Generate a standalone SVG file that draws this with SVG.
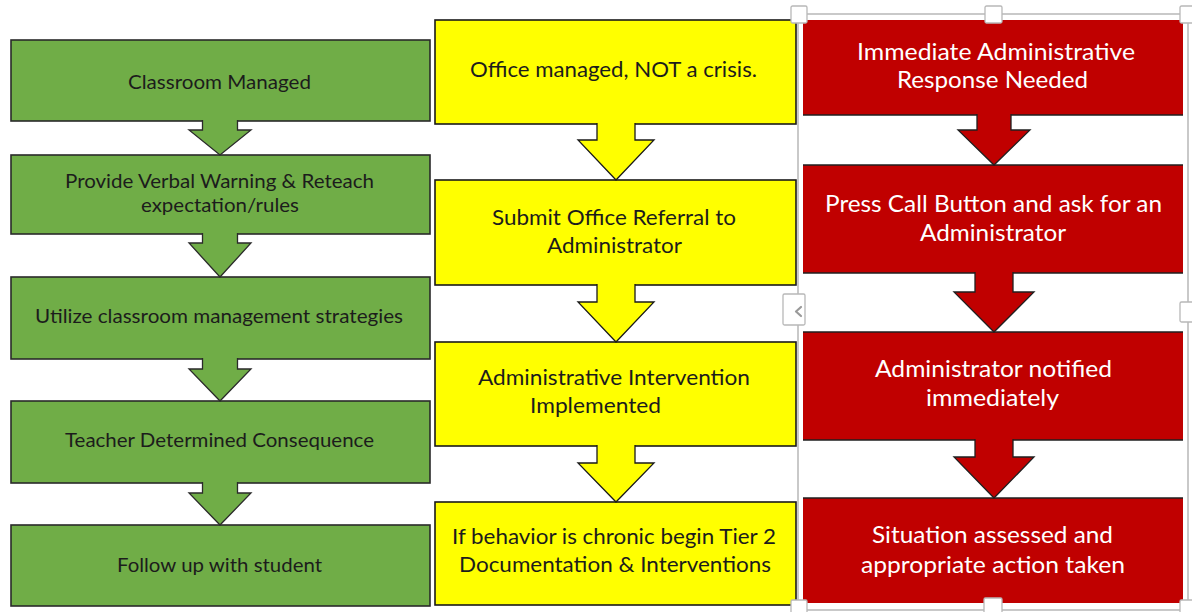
<svg xmlns="http://www.w3.org/2000/svg" width="1192" height="612" viewBox="0 0 1192 612">
  <style>
    .t { font-family: Lato, "Open Sans", "Liberation Sans", sans-serif; }
    .g-box { fill: #70ad47; stroke: #2a2a2a; stroke-width: 1.6; }
    .y-box { fill: #ffff00; stroke: #1a1a1a; stroke-width: 1.6; }
    .r-box { fill: #c00000; }
    .r-edge { stroke: #1f1f1f; stroke-width: 1.6; }
    .g-arr { fill: #70ad47; stroke: #2a2a2a; stroke-width: 1.3; stroke-linejoin: miter; }
    .y-arr { fill: #ffff00; stroke: #1a1a1a; stroke-width: 1.3; stroke-linejoin: miter; }
    .r-arr { fill: #c00000; stroke: #1f1f1f; stroke-width: 1.3; stroke-linejoin: miter; }
    .g-txt { font-size: 20px; fill: #1c1c1c; }
    .y-txt { font-size: 21.5px; fill: #1c1c1c; }
    .r-txt { font-size: 23px; fill: #ffffff; }
    .frame { fill: none; stroke: #c9c9c9; stroke-width: 2; }
    .handle { fill: #ffffff; stroke: #b8b8b8; stroke-width: 1.3; }
  </style>
  <rect width="1192" height="612" fill="#ffffff"/>

  <!-- Left column: classroom-managed steps -->
  <g id="green-1">
    <rect class="g-box" x="11" y="40" width="419" height="81"/>
    <text class="t g-txt" x="128" y="89" textLength="183" lengthAdjust="spacingAndGlyphs">Classroom Managed</text>
  </g>
  <g id="green-2">
    <rect class="g-box" x="11" y="155" width="419" height="79"/>
    <text class="t g-txt" x="65" y="188" textLength="309" lengthAdjust="spacingAndGlyphs">Provide Verbal Warning &amp; Reteach</text>
    <text class="t g-txt" x="141" y="212" textLength="158" lengthAdjust="spacingAndGlyphs">expectation/rules</text>
  </g>
  <g id="green-3">
    <rect class="g-box" x="11" y="277" width="419" height="82"/>
    <text class="t g-txt" x="35" y="323" textLength="368" lengthAdjust="spacingAndGlyphs">Utilize classroom management strategies</text>
  </g>
  <g id="green-4">
    <rect class="g-box" x="11" y="401" width="419" height="82"/>
    <text class="t g-txt" x="65" y="447" textLength="309" lengthAdjust="spacingAndGlyphs">Teacher Determined Consequence</text>
  </g>
  <g id="green-5">
    <rect class="g-box" x="11" y="525" width="419" height="81"/>
    <text class="t g-txt" x="117" y="572" textLength="205" lengthAdjust="spacingAndGlyphs">Follow up with student</text>
  </g>

  <!-- Middle column: office-managed steps -->
  <g id="yellow-1">
    <rect class="y-box" x="435" y="20" width="361" height="104"/>
    <text class="t y-txt" x="470" y="77" textLength="287" lengthAdjust="spacingAndGlyphs">Office managed, NOT a crisis.</text>
  </g>
  <g id="yellow-2">
    <rect class="y-box" x="435" y="180" width="361" height="105"/>
    <text class="t y-txt" x="492" y="225" textLength="244" lengthAdjust="spacingAndGlyphs">Submit Office Referral to</text>
    <text class="t y-txt" x="547" y="253" textLength="135" lengthAdjust="spacingAndGlyphs">Administrator</text>
  </g>
  <g id="yellow-3">
    <rect class="y-box" x="435" y="342" width="361" height="104"/>
    <text class="t y-txt" x="478" y="385" textLength="272" lengthAdjust="spacingAndGlyphs">Administrative Intervention</text>
    <text class="t y-txt" x="530" y="413" textLength="131" lengthAdjust="spacingAndGlyphs">Implemented</text>
  </g>
  <g id="yellow-4">
    <rect class="y-box" x="435" y="502" width="361" height="103"/>
    <text class="t y-txt" x="452" y="544" textLength="324" lengthAdjust="spacingAndGlyphs">If behavior is chronic begin Tier 2</text>
    <text class="t y-txt" x="459" y="572" textLength="312" lengthAdjust="spacingAndGlyphs">Documentation &amp; Interventions</text>
  </g>

  <!-- Right column: immediate administrative response -->
  <g id="red-1">
    <rect class="r-box" x="803" y="20" width="380" height="95"/>
    <line class="r-edge" x1="803" y1="115" x2="1183" y2="115"/>
    <text class="t r-txt" x="857" y="60" textLength="278" lengthAdjust="spacingAndGlyphs">Immediate Administrative</text>
    <text class="t r-txt" x="897" y="88" textLength="191" lengthAdjust="spacingAndGlyphs">Response Needed</text>
  </g>
  <g id="red-2">
    <rect class="r-box" x="803" y="165" width="380" height="108"/>
    <line class="r-edge" x1="803" y1="165" x2="1183" y2="165"/>
    <line class="r-edge" x1="803" y1="273" x2="1183" y2="273"/>
    <text class="t r-txt" x="825" y="212" textLength="337" lengthAdjust="spacingAndGlyphs">Press Call Button and ask for an</text>
    <text class="t r-txt" x="920" y="241" textLength="146" lengthAdjust="spacingAndGlyphs">Administrator</text>
  </g>
  <g id="red-3">
    <rect class="r-box" x="803" y="332" width="380" height="108"/>
    <line class="r-edge" x1="803" y1="332" x2="1183" y2="332"/>
    <line class="r-edge" x1="803" y1="440" x2="1183" y2="440"/>
    <text class="t r-txt" x="875" y="377" textLength="237" lengthAdjust="spacingAndGlyphs">Administrator notified</text>
    <text class="t r-txt" x="926" y="406" textLength="133" lengthAdjust="spacingAndGlyphs">immediately</text>
  </g>
  <g id="red-4">
    <rect class="r-box" x="803" y="498" width="380" height="105"/>
    <line class="r-edge" x1="803" y1="498" x2="1183" y2="498"/>
    <text class="t r-txt" x="872" y="543" textLength="241" lengthAdjust="spacingAndGlyphs">Situation assessed and</text>
    <text class="t r-txt" x="861" y="573" textLength="264" lengthAdjust="spacingAndGlyphs">appropriate action taken</text>
  </g>

  <!-- Block arrows between steps (open at the top so they merge into the box above) -->
  <g id="connectors">
    <path class="g-arr" d="M202.5,120 L202.5,130 L189,130 L220,155 L251,130 L237.5,130 L237.5,120"/>
    <path class="g-arr" d="M202.5,233 L202.5,243 L189,243 L220,277 L251,243 L237.5,243 L237.5,233"/>
    <path class="g-arr" d="M202.5,358 L202.5,369 L189,369 L220,401 L251,369 L237.5,369 L237.5,358"/>
    <path class="g-arr" d="M202.5,482 L202.5,493 L189,493 L220,525 L251,493 L237.5,493 L237.5,482"/>

    <path class="y-arr" d="M597,123 L597,140 L578,140 L616,180 L654,140 L635,140 L635,123"/>
    <path class="y-arr" d="M597,284 L597,302 L578,302 L616,342 L654,302 L635,302 L635,284"/>
    <path class="y-arr" d="M597,445 L597,463 L578,463 L616,502 L654,463 L635,463 L635,445"/>

    <path class="r-arr" d="M977,114 L977,130 L958,130 L994,165 L1030,130 L1011,130 L1011,114"/>
    <path class="r-arr" d="M975,272 L975,292 L954,292 L994,332 L1034,292 L1013,292 L1013,272"/>
    <path class="r-arr" d="M975,439 L975,457 L954,457 L994,498 L1034,457 L1013,457 L1013,439"/>
  </g>

  <!-- Selection frame with resize handles around the right column -->
  <g id="selection">
    <rect class="frame" x="798" y="14" width="390" height="596"/>
    <rect class="handle" x="791" y="6" width="16" height="17" rx="1.5"/>
    <rect class="handle" x="985" y="6" width="17" height="17" rx="1.5"/>
    <rect class="handle" x="1180" y="6" width="16" height="17" rx="1.5"/>
    <rect class="handle" x="1180" y="302" width="16" height="20" rx="1.5"/>
    <rect class="handle" x="791" y="600" width="16" height="16" rx="1.5"/>
    <rect class="handle" x="984" y="598" width="18" height="18" rx="1.5"/>
    <rect class="handle" x="1180" y="600" width="16" height="16" rx="1.5"/>
    <rect class="handle" x="783" y="294" width="22" height="31" rx="1.5"/>
    <polyline points="801,307 796,311.5 801,316" fill="none" stroke="#9a9a9a" stroke-width="2.2" stroke-linecap="round" stroke-linejoin="round"/>
  </g>
</svg>
